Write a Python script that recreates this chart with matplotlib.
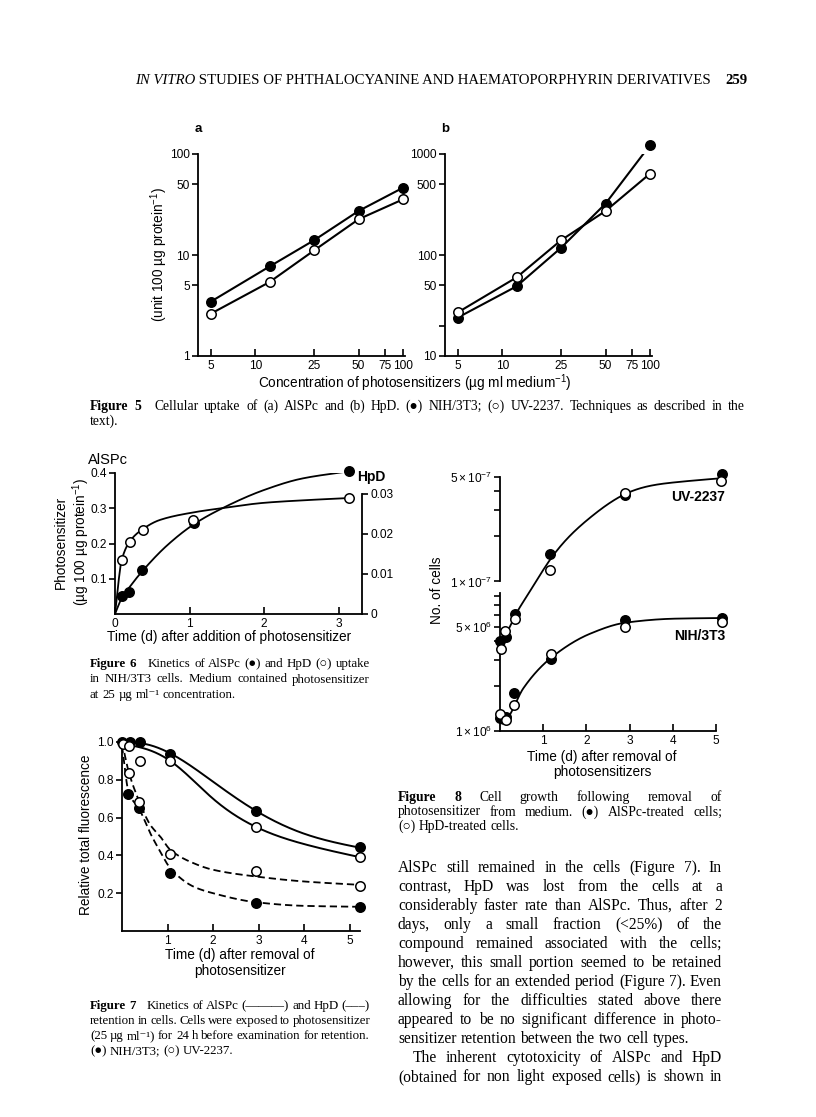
import numpy as np
import matplotlib
matplotlib.use("Agg")
import matplotlib.pyplot as plt

# ------------------------------------------------------------
# data
# ------------------------------------------------------------
# Figure 5: uptake vs concentration (log-log)
conc = [5, 12.5, 25, 50, 100]
upt_a_nih = [3.45, 7.7, 14.0, 27.3, 46.4]
upt_a_uv = [2.62, 5.4, 11.1, 22.6, 35.6]
upt_b_nih = [24, 49, 118, 323, 1227]
upt_b_uv = [27, 60, 140, 273, 640]
conc_ticks = [5, 10, 25, 50, 75, 100]
conc_labels = ["5", "10", "25", "50", "75", "100"]

# Figure 6: kinetics of uptake (AlSPc left axis, HpD right axis)
t6_alspc = [0.09, 0.19, 0.36, 1.06, 3.14]
alspc6 = [0.051, 0.062, 0.125, 0.258, 0.406]
t6_hpd = [0.09, 0.2, 0.37, 1.05, 3.14]
hpd6 = [0.0136, 0.0181, 0.0211, 0.0236, 0.029]
# hand drawn curves (knots)
t6_alspc_curve = [0, 0.09, 0.19, 0.36, 0.7, 1.06, 1.41, 2.0, 2.5, 3.14]
alspc6_curve = [0, 0.045, 0.075, 0.12, 0.195, 0.255, 0.297, 0.352, 0.384, 0.405]
t6_hpd_curve = [0, 0.09, 0.2, 0.37, 0.6, 1.05, 1.41, 2.0, 2.6, 3.14]
hpd6_curve = [0, 0.0135, 0.0182, 0.0212, 0.0235, 0.0254, 0.0264, 0.0278, 0.0285, 0.029]

# Figure 7: retention (solid = AlSPc, dashed = HpD)
t7_al_nih = [0, 0.17, 0.4, 1.06, 2.95, 5.24]
al_nih = [1.0, 1.0, 1.0, 0.937, 0.633, 0.444]
t7_al_uv = [0.02, 0.15, 0.4, 1.06, 2.95, 5.24]
al_uv = [0.99, 0.978, 0.9, 0.898, 0.548, 0.394]
t7_hp_nih = [0.13, 0.38, 1.06, 2.95, 5.24]
hp_nih = [0.725, 0.652, 0.306, 0.15, 0.129]
t7_hp_uv = [0.15, 0.38, 1.06, 2.95, 5.24]
hp_uv = [0.837, 0.681, 0.41, 0.318, 0.239]
t7_curve_solid = [0, 0.5, 1.06, 2.0, 2.95, 4.0, 5.24]
al_nih_curve = [1.0, 0.99, 0.94, 0.79, 0.635, 0.515, 0.44]
al_uv_curve = [0.99, 0.965, 0.9, 0.7, 0.55, 0.46, 0.39]
t7_curve_dash = [0, 0.15, 0.38, 0.62, 0.84, 1.06, 1.57, 2.0, 2.95, 4.0, 5.24]
hp_nih_curve = [0.98, 0.73, 0.645, 0.518, 0.42, 0.333, 0.235, 0.2, 0.152, 0.133, 0.128]
hp_uv_curve = [1.0, 0.84, 0.685, 0.562, 0.5, 0.43, 0.359, 0.324, 0.288, 0.262, 0.244]

# Figure 8: cell growth (log y)
t8_uv_al = [0.0, 0.13, 0.35, 1.16, 2.9, 5.14]
uv_al = [4.0e6, 4.25e6, 6.1e6, 1.53e7, 3.8e7, 5.27e7]
t8_uv_hp = [0.03, 0.12, 0.34, 1.16, 2.9, 5.12]
uv_hp = [3.56e6, 4.66e6, 5.64e6, 1.2e7, 3.9e7, 4.7e7]
t8_nih_al = [0.0, 0.14, 0.33, 1.19, 2.9, 5.14]
nih_al = [1.23e6, 1.25e6, 1.8e6, 3.05e6, 5.5e6, 5.7e6]
t8_nih_hp = [0.0, 0.15, 0.33, 1.19, 2.9, 5.14]
nih_hp = [1.29e6, 1.18e6, 1.49e6, 3.25e6, 4.96e6, 5.36e6]
t8_uv_curve = [0.0, 0.13, 0.35, 0.6, 1.16, 2.09, 2.9, 4.03, 5.1]
uv_curve = [3.9e6, 4.4e6, 5.9e6, 7.8e6, 1.4e7, 2.68e7, 3.85e7, 4.6e7, 4.9e7]
t8_nih_curve = [0.05, 0.2, 0.54, 1.19, 2.09, 2.9, 4.03, 5.14]
nih_curve = [1.12e6, 1.25e6, 1.93e6, 3.1e6, 4.48e6, 5.3e6, 5.64e6, 5.7e6]
cell_ticks = [1e6, 5e6, 1e7, 5e7]
cell_labels = [r"$1 \times 10^{6}$", r"$5 \times 10^{6}$", r"$1 \times 10^{-7}$", r"$5 \times 10^{-7}$"]
cell_minor = [2e6, 3e6, 4e6, 6e6, 7e6, 8e6, 2e7, 3e7, 4e7]

# ------------------------------------------------------------
# page text
# ------------------------------------------------------------
header_it = "IN VITRO"
header_rest = " STUDIES OF PHTHALOCYANINE AND HAEMATOPORPHYRIN DERIVATIVES"
page_no = "259"

cap5 = ["Figure 5 Cellular uptake of (a) AlSPc and (b) HpD. (●) NIH/3T3; (○) UV-2237. Techniques as described in the",
        "text)."]
cap6 = ["Figure 6 Kinetics of AlSPc (●) and HpD (○) uptake",
        "in NIH/3T3 cells. Medium contained photosensitizer",
        "at 25 µg ml⁻¹ concentration."]
cap7 = ["Figure 7 Kinetics of AlSPc (———) and HpD (–––)",
        "retention in cells. Cells were exposed to photosensitizer",
        "(25 µg ml⁻¹) for 24 h before examination for retention.",
        "(●) NIH/3T3; (○) UV-2237."]
cap8 = ["Figure 8 Cell growth following removal of",
        "photosensitizer from medium. (●) AlSPc-treated cells;",
        "(○) HpD-treated cells."]
body = ["AlSPc still remained in the cells (Figure 7). In",
        "contrast, HpD was lost from the cells at a",
        "considerably faster rate than AlSPc. Thus, after 2",
        "days, only a small fraction (<25%) of the",
        "compound remained associated with the cells;",
        "however, this small portion seemed to be retained",
        "by the cells for an extended period (Figure 7). Even",
        "allowing for the difficulties stated above there",
        "appeared to be no significant difference in photo-",
        "sensitizer retention between the two cell types.",
        "The inherent cytotoxicity of AlSPc and HpD",
        "(obtained for non light exposed cells) is shown in"]

# ------------------------------------------------------------
W, H = 816, 1117
SANS = ["Liberation Sans", "DejaVu Sans"]
SERIF = ["Liberation Serif", "DejaVu Serif"]
plt.rcParams["font.family"] = SANS
plt.rcParams["mathtext.fontset"] = "custom"
plt.rcParams["mathtext.rm"] = "Liberation Sans"
plt.rcParams["mathtext.it"] = "Liberation Sans:italic"
plt.rcParams["mathtext.bf"] = "Liberation Sans:bold"
plt.rcParams["axes.linewidth"] = 1.3
plt.rcParams["xtick.major.width"] = 1.2
plt.rcParams["ytick.major.width"] = 1.2
plt.rcParams["ytick.minor.width"] = 1.2

TICK = 8.6
LAB = 9.8

fig = plt.figure(figsize=(W / 100, H / 100), dpi=100)
rend = fig.canvas.get_renderer()


def add_ax(l, t, r, b):
    return fig.add_axes([l / W, 1 - b / H, (r - l) / W, (b - t) / H])


def ftext(x, y, s, **kw):
    return fig.text(x / W, 1 - y / H, s, **kw)


def pchip(x, y, n=300):
    # monotone cubic through hand-read knots
    x = np.asarray(x, float)
    y = np.asarray(y, float)
    h = np.diff(x)
    d = np.diff(y) / h
    m = np.zeros_like(y)
    m[0], m[-1] = d[0], d[-1]
    for k in range(1, len(y) - 1):
        if d[k - 1] * d[k] > 0:
            w1 = 2 * h[k] + h[k - 1]
            w2 = h[k] + 2 * h[k - 1]
            m[k] = (w1 + w2) / (w1 / d[k - 1] + w2 / d[k])
    xs = np.linspace(x[0], x[-1], n)
    i = np.clip(np.searchsorted(x, xs) - 1, 0, len(h) - 1)
    t = (xs - x[i]) / h[i]
    ys = ((2 * t**3 - 3 * t**2 + 1) * y[i] + (t**3 - 2 * t**2 + t) * h[i] * m[i]
          + (-2 * t**3 + 3 * t**2) * y[i + 1] + (t**3 - t**2) * h[i] * m[i + 1])
    return xs, ys


def spline(x, y, n=300):
    # natural cubic spline through knots (smoother bends)
    x = np.asarray(x, float)
    y = np.asarray(y, float)
    nk = len(x)
    h = np.diff(x)
    A = np.zeros((nk, nk))
    rhs = np.zeros(nk)
    A[0, 0] = A[-1, -1] = 1
    for k in range(1, nk - 1):
        A[k, k - 1] = h[k - 1]
        A[k, k] = 2 * (h[k - 1] + h[k])
        A[k, k + 1] = h[k]
        rhs[k] = 6 * ((y[k + 1] - y[k]) / h[k] - (y[k] - y[k - 1]) / h[k - 1])
    M = np.linalg.solve(A, rhs)
    xs = np.linspace(x[0], x[-1], n)
    i = np.clip(np.searchsorted(x, xs) - 1, 0, nk - 2)
    a = x[i + 1] - xs
    b = xs - x[i]
    hi = h[i]
    ys = (M[i] * a**3 / (6 * hi) + M[i + 1] * b**3 / (6 * hi)
          + (y[i] / hi - M[i] * hi / 6) * a + (y[i + 1] / hi - M[i + 1] * hi / 6) * b)
    return xs, ys


def dots(ax, x, y, filled):
    ax.plot(x, y, "o", ms=6.8, mew=1.1, mec="black",
            mfc="black" if filled else "white", clip_on=False, zorder=5)


def style(ax, xdir="in", ydir="out"):
    for s in ["top", "right"]:
        ax.spines[s].set_visible(False)
    ax.tick_params(axis="x", direction=xdir, length=5, labelsize=TICK, pad=3)
    ax.tick_params(axis="y", direction=ydir, length=4, labelsize=TICK, pad=2)
    ax.tick_params(which="minor", length=4)
    ax.patch.set_alpha(0)


def text_line(y, x0, x1, line, size, justify=True, nbold=0, pad_bold=0):
    words = line.split(" ")
    arts = []
    for k, w in enumerate(words):
        arts.append(ftext(0, y, w, fontsize=size, family=SERIF, va="baseline",
                          weight="bold" if k < nbold else "normal"))
    widths = [a.get_window_extent(rend).width for a in arts]
    if justify and len(words) > 1:
        gap = (x1 - x0 - sum(widths) - pad_bold) / (len(words) - 1)
    else:
        gap = size * 0.25 * 100 / 72
    x = x0
    for k, (a, w) in enumerate(zip(arts, widths)):
        a.set_x(x / W)
        x += w + gap
        if k == nbold - 1:
            x += pad_bold


def paragraph(lines, x0, x1, y0, dy, size, fig_label=False, pad_bold=0):
    for k, line in enumerate(lines):
        last = k == len(lines) - 1
        nb = 2 if (fig_label and k == 0) else 0
        text_line(y0 + k * dy, x0, x1, line, size, justify=not last,
                  nbold=nb, pad_bold=pad_bold if nb else 0)


# ------------------------------------------------------------
# running header
# ------------------------------------------------------------
h1 = ftext(135, 84, header_it, fontsize=10.6, family=SERIF, style="italic", va="baseline")
w1 = h1.get_window_extent(rend).width
ftext(135 + w1, 84, header_rest, fontsize=10.6, family=SERIF, va="baseline")
ftext(748, 84, page_no, fontsize=10.6, family=SERIF, weight="bold", va="baseline", ha="right")

# ------------------------------------------------------------
# Figure 5 a / b
# ------------------------------------------------------------
for (l, r), yl, nih, uv, yt, ylab, name in [
        ((198, 405), (1, 100), upt_a_nih, upt_a_uv, [1, 5, 10, 50, 100], ["1", "5", "10", "50", "100"], "a"),
        ((445, 652), (10, 1000), upt_b_nih, upt_b_uv, [10, 20, 50, 100, 500, 1000],
         ["10", "", "50", "100", "500", "1000"], "b")]:
    ax = add_ax(l, 154, r, 356)
    ax.set_xscale("log")
    ax.set_yscale("log")
    ax.set_xlim(4.1, 103)
    ax.set_ylim(*yl)
    ax.plot(conc, nih, color="black", lw=1.5)
    ax.plot(conc, uv, color="black", lw=1.5)
    dots(ax, conc, nih, True)
    dots(ax, conc, uv, False)
    style(ax)
    ax.set_xticks(conc_ticks)
    ax.set_xticklabels(conc_labels)
    ax.set_yticks(yt)
    ax.set_yticklabels(ylab)
    ax.xaxis.set_minor_locator(matplotlib.ticker.NullLocator())
    ax.yaxis.set_minor_locator(matplotlib.ticker.NullLocator())
    ftext(l, 129, name, fontsize=9.5, weight="bold", ha="center", va="center")

ftext(159, 255, r"(unit 100 µg protein$^{-1}$)", fontsize=LAB, rotation=90, ha="center", va="center")
ftext(415, 383, r"Concentration of photosensitizers (µg ml medium$^{-1}$)", fontsize=LAB,
      ha="center", va="center")
paragraph(cap5, 90, 745, 410, 15, 9.8, fig_label=True, pad_bold=8)

# ------------------------------------------------------------
# Figure 6
# ------------------------------------------------------------
ax6 = add_ax(115, 473, 362, 614)
ax6.set_xlim(0, 3.31)
ax6.set_ylim(0, 0.4)
xs, ys = pchip(t6_alspc_curve, alspc6_curve)
ax6.plot(xs, ys, color="black", lw=1.3)
dots(ax6, t6_alspc, alspc6, True)
style(ax6)
ax6.set_xticks([0, 1, 2, 3])
ax6.set_yticks([0.1, 0.2, 0.3, 0.4])
ax6.set_yticklabels(["0.1", "0.2", "0.3", "0.4"])
ax6r = ax6.twinx()
ax6r.set_ylim(0, 0.03 * 141 / 120)
xs, ys = pchip(t6_hpd_curve, hpd6_curve)
ax6r.plot(xs, ys, color="black", lw=1.3)
dots(ax6r, t6_hpd, hpd6, False)
for s in ["top", "left", "bottom"]:
    ax6r.spines[s].set_visible(False)
ax6r.spines["right"].set_bounds(0, 0.03)
ax6r.set_yticks([0, 0.01, 0.02, 0.03])
ax6r.set_yticklabels(["0", "0.01", "0.02", "0.03"])
ax6r.tick_params(axis="y", direction="out", length=4, labelsize=TICK, pad=2)
ftext(108, 460, "AlSPc", fontsize=10.5, ha="center", va="center")
ftext(371, 477, "HpD", fontsize=10, weight="bold", ha="center", va="center")
ftext(73, 542, "Photosensitizer\n" + r"(µg 100 µg protein$^{-1}$)", fontsize=LAB, rotation=90,
      ha="center", va="center", multialignment="center", linespacing=1.15)
ftext(229, 637, "Time (d) after addition of photosensitizer", fontsize=LAB, ha="center", va="center")
paragraph(cap6, 90, 370, 667, 15.5, 9.3, fig_label=True, pad_bold=8)

# ------------------------------------------------------------
# Figure 7
# ------------------------------------------------------------
ax7 = add_ax(122, 742, 360, 931)
ax7.set_xlim(0, 5.23)
ax7.set_ylim(0, 1.0)
for x, y in [(t7_curve_solid, al_nih_curve), (t7_curve_solid, al_uv_curve)]:
    xs, ys = spline(x, y)
    ax7.plot(xs, ys, color="black", lw=1.4, clip_on=False)
for x, y in [(t7_curve_dash, hp_nih_curve), (t7_curve_dash, hp_uv_curve)]:
    xs, ys = pchip(x, y)
    ax7.plot(xs, ys, color="black", lw=1.3, dashes=(4, 2.2), clip_on=False)
dots(ax7, t7_al_nih, al_nih, True)
dots(ax7, t7_al_uv, al_uv, False)
dots(ax7, t7_hp_nih, hp_nih, True)
dots(ax7, t7_hp_uv, hp_uv, False)
style(ax7)
ax7.set_xticks([1, 2, 3, 4, 5])
ax7.set_yticks([0.2, 0.4, 0.6, 0.8, 1.0])
ax7.set_yticklabels(["0.2", "0.4", "0.6", "0.8", "1.0"])
ftext(86, 835, "Relative total fluorescence", fontsize=LAB, rotation=90, ha="center", va="center")
ftext(240, 955, "Time (d) after removal of", fontsize=LAB, ha="center", va="center")
ftext(240, 971, "photosensitizer", fontsize=LAB, ha="center", va="center")
paragraph(cap7, 90, 370, 1009, 15, 9.3, fig_label=True, pad_bold=8)

# ------------------------------------------------------------
# Figure 8
# ------------------------------------------------------------
ax8 = add_ax(500, 477, 716, 731)
ax8.set_yscale("log")
ax8.set_xlim(0, 5)
ax8.set_ylim(1e6, 5e7)
xs, ys = spline(t8_uv_curve, np.log10(uv_curve))
ax8.plot(xs, 10**ys, color="black", lw=1.3, clip_on=False)
xs, ys = pchip(t8_nih_curve, np.log10(nih_curve))
ax8.plot(xs, 10**ys, color="black", lw=1.3, clip_on=False)
dots(ax8, t8_uv_al, uv_al, True)
dots(ax8, t8_uv_hp, uv_hp, False)
dots(ax8, t8_nih_al, nih_al, True)
dots(ax8, t8_nih_hp, nih_hp, False)
style(ax8)
ax8.spines["left"].set_visible(False)
ax8.axvline(0, 0, 0.545, color="black", lw=1.3, clip_on=False)
ax8.axvline(0, 0.5886, 1, color="black", lw=1.3, clip_on=False)
ax8.set_xticks([1, 2, 3, 4, 5])
ax8.set_yticks(cell_ticks)
ax8.set_yticklabels(cell_labels)
ax8.set_yticks(cell_minor, minor=True)
ax8.yaxis.set_minor_formatter(matplotlib.ticker.NullFormatter())
ftext(725, 497, "UV-2237", fontsize=10, weight="bold", ha="right", va="center")
ftext(725, 636, "NIH/3T3", fontsize=10, weight="bold", ha="right", va="center")
ftext(437, 590, "No. of cells", fontsize=LAB, rotation=90, ha="center", va="center")
ftext(602, 757, "Time (d) after removal of", fontsize=LAB, ha="center", va="center")
ftext(602, 772, "photosensitizers", fontsize=LAB, ha="center", va="center")
paragraph(cap8, 398, 722, 801, 14.5, 9.8, fig_label=True)

# ------------------------------------------------------------
# body text, right column
# ------------------------------------------------------------
indents = [0] * 10 + [15, 0]
for k, line in enumerate(body):
    text_line(872 + k * 19, 398 + indents[k], 722, line, 11.2, justify=(k != 9))

fig.savefig("out.png", dpi=100)
